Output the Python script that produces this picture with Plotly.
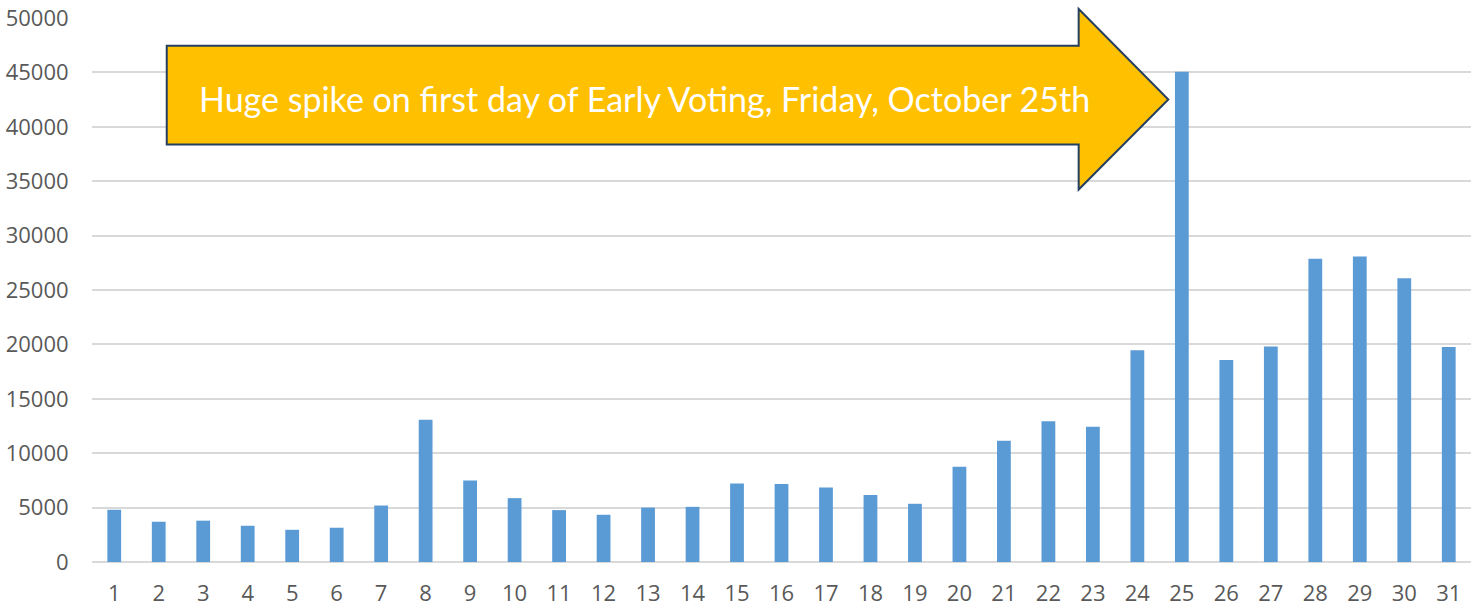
import plotly.graph_objects as go

days = list(range(1, 32))
day_labels = [str(d) for d in days]
votes = [4800, 3700, 3800, 3330, 2960, 3150, 5190, 13080, 7490, 5870,
         4770, 4340, 5000, 5070, 7210, 7180, 6840, 6150, 5350, 8750,
         11140, 12940, 12420, 19460, 45050, 18570, 19800, 27880, 28090, 26070,
         19770]
y_ticks = list(range(0, 50001, 5000))
callout_text = "Huge spike on first day of Early Voting, Friday, October 25th"

fig = go.Figure()
fig.add_trace(go.Bar(x=days, y=votes, marker=dict(color="#5B9BD5", line=dict(width=0)),
                     showlegend=False, hoverinfo="x+y"))

# block arrow callout (paper coordinates)
bx0, bx1, tipx = 0.0542, 0.7155, 0.7805
by0, by1 = 0.7675, 0.949
hy0, hy1, tipy = 0.6847, 1.0166, 0.8502
path = (f"M {bx0},{by0} L {bx0},{by1} L {bx1},{by1} L {bx1},{hy1} L {tipx},{tipy} "
        f"L {bx1},{hy0} L {bx1},{by0} Z")
fig.add_shape(type="path", path=path, xref="paper", yref="paper",
              fillcolor="#FFC000", line=dict(color="#243F60", width=2), layer="above")
fig.add_annotation(text=callout_text, xref="paper", yref="paper", x=0.401, y=0.852,
                   showarrow=False, xanchor="center", yanchor="middle",
                   font=dict(family="Lato", size=34, color="white"))

fig.update_layout(
    width=1483, height=608,
    margin=dict(l=92, r=12, t=18, b=46, autoexpand=False),
    paper_bgcolor="white", plot_bgcolor="white",
    bargap=0.69,
    font=dict(family="Open Sans", color="#595959", size=22),
    xaxis=dict(range=[0.5, 31.5], tickmode="array", tickvals=days, ticktext=day_labels,
               showgrid=False, zeroline=False, showline=False, automargin=False,
               ticks="outside", ticklen=12, tickcolor="rgba(0,0,0,0)",
               tickfont=dict(size=22, color="#595959")),
    yaxis=dict(range=[0, 50000], tickmode="array", tickvals=y_ticks,
               ticktext=[str(v) for v in y_ticks], automargin=False,
               showgrid=True, gridcolor="#D9D9D9", gridwidth=1.5,
               zeroline=True, zerolinecolor="#D9D9D9", zerolinewidth=1.5,
               showline=False, ticks="outside", ticklen=18, tickcolor="rgba(0,0,0,0)",
               tickfont=dict(size=22, color="#595959")),
)

fig.write_html("out.html", config={"displayModeBar": False},
               post_script="document.body.style.margin='0';document.body.style.overflow='hidden';")
